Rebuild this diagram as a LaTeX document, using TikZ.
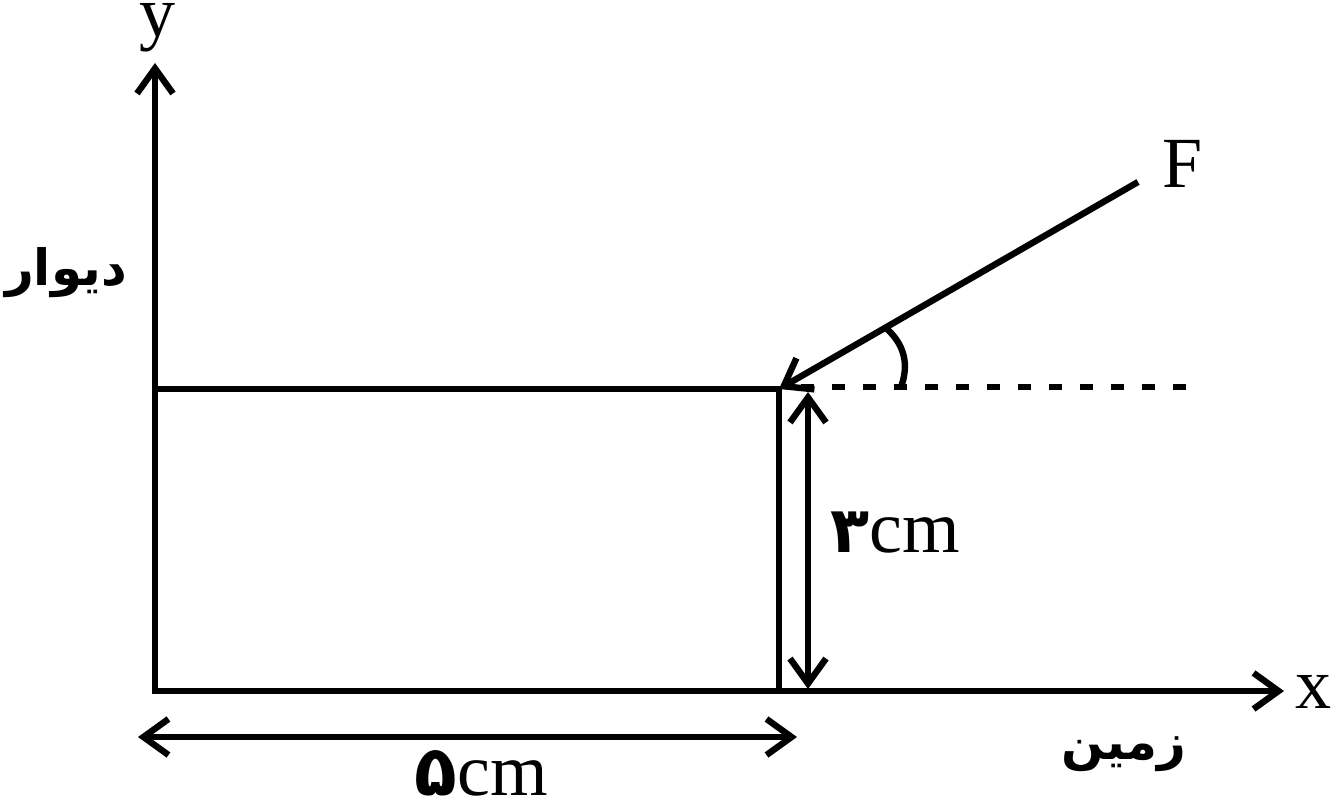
\documentclass[tikz,border=0pt]{standalone}
\usepackage{fontspec}
\setmainfont{Liberation Serif}
\newfontfamily\arabicfont[Script=Arabic]{DejaVu Sans}
\TeXXeTstate=1
\usetikzlibrary{arrows.meta}
\tikzset{
 ln/.style={line width=6.4pt,black},
 tip/.style={-{Straight Barb[length=25pt,width=36pt,line width=6.4pt]}},
 tips/.style={{Straight Barb[length=25pt,width=36pt,line width=6.4pt]}-{Straight Barb[length=25pt,width=36pt,line width=6.4pt]}},
 lab/.style={inner sep=0pt,anchor=base,font=\fontsize{72pt}{72pt}\selectfont},
 fa/.style={inner sep=0pt,anchor=base,font=\arabicfont\bfseries\fontsize{50pt}{56pt}\selectfont}
}
\newcommand{\cmtext}[2]{{\arabicfont\bfseries\fontsize{#2}{#2}\selectfont #1}{\rmfamily\mdseries\fontsize{74pt}{74pt}\selectfont cm}}
\begin{document}
\begin{tikzpicture}[x=1pt,y=-1pt]
\useasboundingbox (0,0) rectangle (1332,799);
\coordinate (O) at (155,691);
\coordinate (Y) at (155,63);
\coordinate (X) at (1284,691);
\coordinate (TL) at (155,389);
\coordinate (TR) at (779,389);
\coordinate (BR) at (779,691);
\coordinate (Fend) at (1138,182);
\coordinate (D) at (1190,387);
\coordinate (H1) at (808,392);
\coordinate (H2) at (808,689);
\coordinate (W1) at (138,737);
\coordinate (W2) at (797,737);
\coordinate (A1) at (886,328);
\coordinate (A2) at (901,387);
\draw[ln,line cap=rect] (O) -- ++(0,-300);
\draw[ln,tip] (O) -- (Y);
\draw[ln,tip] (O) -- (X);
\draw[ln] (TL) -- (TR);
\draw[ln,line cap=rect] (TR) -- (BR);
\draw[ln,tip] (Fend) -- (TR);
\draw[ln,dash pattern=on 13pt off 18pt] (801,387) -- (D);
\draw[ln] (A1) .. controls (905,345) and (909,365) .. (A2);
\draw[ln,tips] (H1) -- (H2);
\draw[ln,tips] (W1) -- (W2);
\node[lab] (ylab) at (157,37) {y};
\node[lab] (flab) at (1183,188) {F};
\node[lab] (xlab) at (1313,708) {x};
\node[fa] (wall) at (66,286) {\beginR دیوار\endR};
\node[fa] (ground) at (1124,759) {\beginR زمین\endR};
\node[lab] (h) at (895,552) {\cmtext{۳}{64pt}};
\node[lab] (w) at (481,795) {\cmtext{۵}{70pt}};
\end{tikzpicture}
\end{document}
